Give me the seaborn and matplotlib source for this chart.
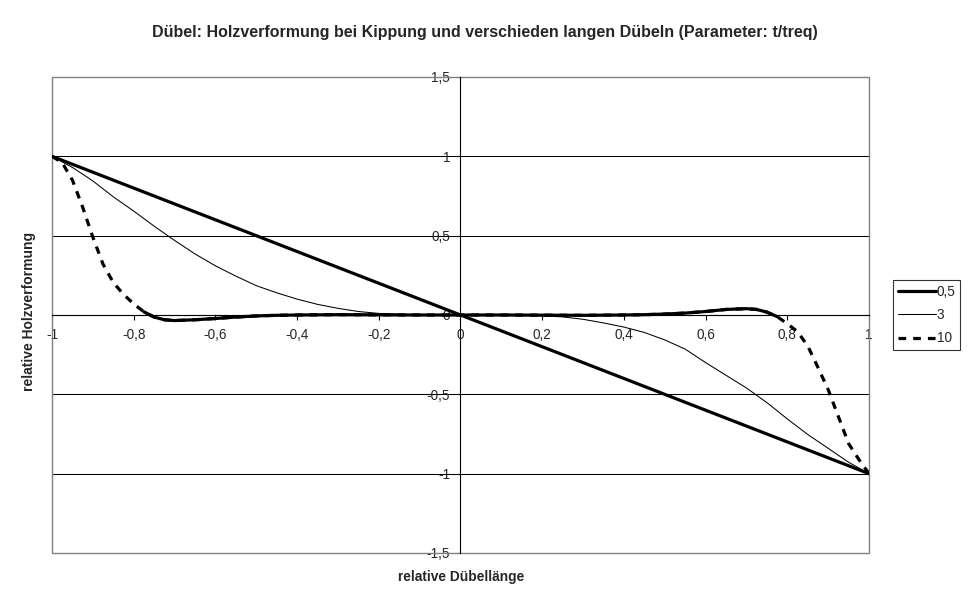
import numpy as np
import pandas as pd
import matplotlib
matplotlib.use("Agg")
import matplotlib.pyplot as plt
from matplotlib.lines import Line2D
from matplotlib.patches import Rectangle
import seaborn as sns

x_05 = [-1.0, 0.0, 1.0]
y_05 = [1.0, 0.0, -1.0]

x_3 = [-1.0, -0.95, -0.9, -0.85, -0.8, -0.75, -0.7, -0.65, -0.6, -0.55, -0.5,
       -0.45, -0.4, -0.35, -0.3, -0.25, -0.2, -0.15, -0.1, -0.05, 0.0,
       0.05, 0.1, 0.15, 0.2, 0.25, 0.3, 0.35, 0.4, 0.45, 0.5,
       0.55, 0.6, 0.65, 0.7, 0.75, 0.8, 0.85, 0.9, 0.95, 1.0]
y_3 = [1.0, 0.93, 0.845, 0.745, 0.655, 0.56, 0.47, 0.385, 0.31, 0.245, 0.185,
       0.14, 0.1, 0.067, 0.042, 0.022, 0.01, 0.004, 0.001, 0.0, 0.0,
       0.0, 0.0, -0.002, -0.005, -0.012, -0.027, -0.05, -0.076, -0.11, -0.157,
       -0.215, -0.3, -0.38, -0.46, -0.552, -0.655, -0.753, -0.84, -0.928, -1.0]

x_10 = [-1.0, -0.975, -0.95, -0.925, -0.9, -0.875, -0.85, -0.825, -0.8, -0.775,
        -0.75, -0.725, -0.7, -0.65, -0.6, -0.55, -0.5, -0.45, -0.4, -0.3, -0.2,
        -0.1, 0.0, 0.1, 0.2, 0.3, 0.4, 0.45, 0.5, 0.55, 0.6, 0.65, 0.7, 0.725,
        0.75, 0.775, 0.8, 0.825, 0.85, 0.875, 0.9, 0.925, 0.95, 0.975, 1.0]
y_10 = [1.0, 0.96, 0.85, 0.68, 0.49, 0.32, 0.205, 0.13, 0.07, 0.02,
        -0.013, -0.03, -0.035, -0.03, -0.022, -0.013, -0.006, -0.002, 0.0, 0.002, 0.001,
        0.0, 0.0, 0.0, -0.001, -0.002, 0.0, 0.002, 0.006, 0.012, 0.022, 0.035, 0.04, 0.035,
        0.018, -0.01, -0.055, -0.105, -0.195, -0.33, -0.47, -0.64, -0.81, -0.91, -1.0]

series_labels = ["0,5", "3", "10"]
x_ticks = [-1.0, -0.8, -0.6, -0.4, -0.2, 0.0, 0.2, 0.4, 0.6, 0.8, 1.0]
x_ticklabels = ["-1", "-0,8", "-0,6", "-0,4", "-0,2", "0", "0,2", "0,4", "0,6", "0,8", "1"]
y_ticks = [-1.5, -1.0, -0.5, 0.0, 0.5, 1.0, 1.5]
y_ticklabels = ["-1,5", "-1", "-0,5", "0", "0,5", "1", "1,5"]

TITLE = "Dübel: Holzverformung bei Kippung und verschieden langen Dübeln (Parameter: t/treq)"
XLABEL = "relative Dübellänge"
YLABEL = "relative Holzverformung"

sns.set_style("white")
plt.rcParams["font.family"] = ["Liberation Sans", "DejaVu Sans"]

W, H = 970, 604
fig = plt.figure(figsize=(W / 100, H / 100), dpi=100)
ax = fig.add_axes([52 / W, 51 / H, 817 / W, 476 / H])

THICK = 2.3
THIN = 0.75
DASH = (0, (2.4, 2.2))
TICK_FS = 9.8

df05 = pd.DataFrame({"x": x_05, "y": y_05})
df3 = pd.DataFrame({"x": x_3, "y": y_3})
df10 = pd.DataFrame({"x": x_10, "y": y_10})
# Excel restarts the dash pattern each segment, so the dense flat part looks solid
df10_mid = df10[df10["x"].abs() <= 0.775]

sns.lineplot(data=df05, x="x", y="y", ax=ax, color="black", lw=THICK,
             estimator=None, sort=False, zorder=4)
sns.lineplot(data=df3, x="x", y="y", ax=ax, color="black", lw=THIN,
             estimator=None, sort=False, zorder=4)
sns.lineplot(data=df10, x="x", y="y", ax=ax, color="black", lw=THICK,
             linestyle=DASH, estimator=None, sort=False, zorder=4)
sns.lineplot(data=df10_mid, x="x", y="y", ax=ax, color="black", lw=THICK,
             estimator=None, sort=False, zorder=4)

ax.set_xlim(-1, 1)
ax.set_ylim(-1.5, 1.5)
ax.set_xlabel("")
ax.set_ylabel("")

# axes cross at zero like in Excel
for side in ["top", "right"]:
    ax.spines[side].set_visible(False)
ax.spines["left"].set_position(("data", 0))
ax.spines["bottom"].set_position(("data", 0))
for side in ["left", "bottom"]:
    ax.spines[side].set_color("black")
    ax.spines[side].set_linewidth(0.8)
    ax.spines[side].set_zorder(3)

ax.set_xticks(x_ticks)
ax.set_xticklabels(x_ticklabels)
ax.set_yticks(y_ticks)
ax.set_yticklabels(y_ticklabels)
ax.tick_params(axis="x", direction="out", length=3.6, width=0.8, color="black",
               pad=5.5, labelsize=TICK_FS, bottom=True)
ax.tick_params(axis="y", direction="out", length=3, width=0.8, color="black",
               pad=4.5, labelsize=TICK_FS, left=True)

ax.yaxis.grid(True, color="black", lw=0.75)
ax.xaxis.grid(False)
gl = ax.get_ygridlines()
gl[0].set_visible(False)
gl[-1].set_visible(False)
ax.set_axisbelow(True)

ax.add_patch(Rectangle((0, 0), 1, 1, transform=ax.transAxes, fill=False,
                       edgecolor="#808080", lw=1.0, zorder=2, clip_on=False))

fig.text(0.5, 1 - 32 / H, TITLE, ha="center", va="center", fontsize=11.5,
         fontweight="bold")
fig.text(461 / W, 1 - 577 / H, XLABEL, ha="center", va="center", fontsize=9.9,
         fontweight="bold")
fig.text(29 / W, 1 - 311 / H, YLABEL, ha="center", va="center", fontsize=10,
         fontweight="bold", rotation=90)

handles = [
    Line2D([], [], color="black", lw=THICK),
    Line2D([], [], color="black", lw=THIN),
    Line2D([], [], color="black", lw=THICK, linestyle=DASH),
]
leg = fig.legend(handles, series_labels, loc="upper left",
                 bbox_to_anchor=(893 / W, 1 - 280 / H), borderaxespad=0,
                 fontsize=TICK_FS, handlelength=2.8, handletextpad=0.05,
                 labelspacing=0.68, borderpad=0.35, fancybox=False,
                 frameon=True)
leg.get_frame().set_edgecolor("black")
leg.get_frame().set_linewidth(0.8)

fig.savefig("out.png", dpi=100)
